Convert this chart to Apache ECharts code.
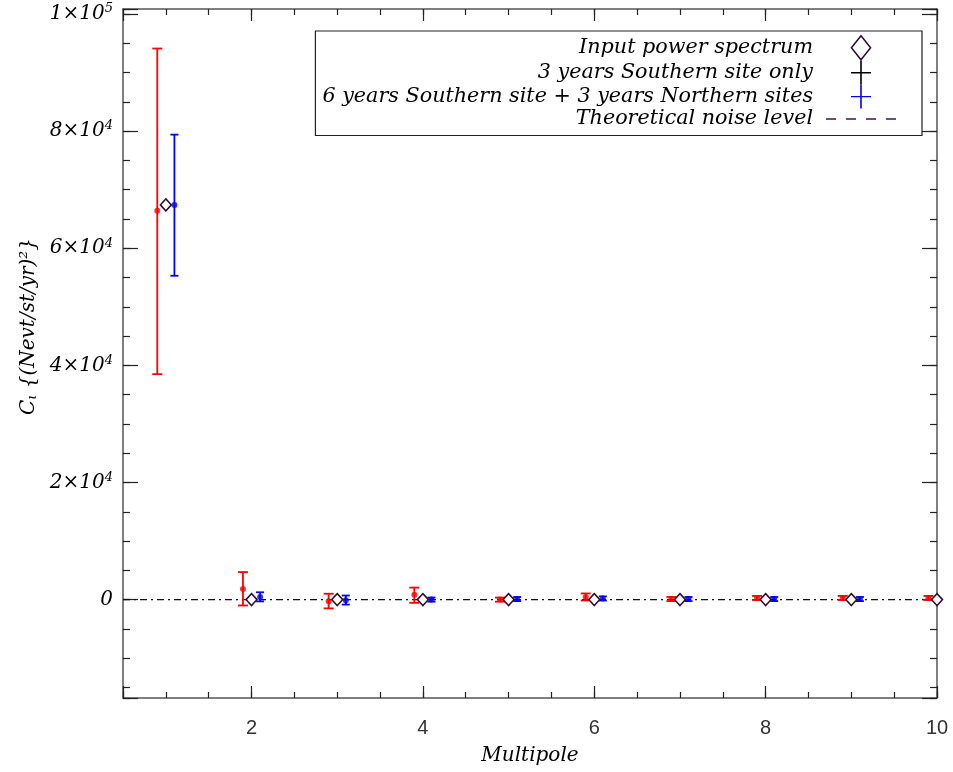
<!DOCTYPE html>
<html>
<head>
<meta charset="utf-8">
<script src="https://cdn.jsdelivr.net/npm/echarts@6/dist/echarts.min.js"></script>
<style>
  html, body { margin: 0; padding: 0; background: #fff; }
  #chart { width: 953px; height: 772px; }
</style>
</head>
<body>
<div id="chart"></div>
<script>
// ---- data ----
const multipoles = [1, 2, 3, 4, 5, 6, 7, 8, 9, 10];
const inputSpectrum = [67400, 0, 0, 0, 0, 0, 0, 0, 0, 0];
const southValues = [66400, 1800, -300, 850, 0, 450, 100, 280, 280, 280];
const southLow    = [38500, -1000, -1500, -550, -350, -150, -250, -70, -70, -70];
const southHigh   = [94100, 4700, 1000, 2050, 350, 1050, 450, 630, 630, 630];
const northValues = [67400, 450, -100, 0, 100, 200, 100, 100, 100, 100];
const northLow    = [55300, -300, -850, -350, -250, -150, -250, -250, -250, -250];
const northHigh   = [79400, 1250, 700, 350, 450, 550, 450, 450, 450, 450];
const noiseLevel = 0;
const xTickLabels = ['2', '4', '6', '8', '10'];
const yTickLabels = { '0': '0', '20000': '2×10^4', '40000': '4×10^4', '60000': '6×10^4', '80000': '8×10^4', '100000': '1×10^5' };
const legendNames = ['Input power spectrum', '3 years Southern site only',
  '6 years Southern site + 3 years Northern sites', 'Theoretical noise level'];

// ---- presentation ----
const SOUTH_SHIFT = -0.1, NORTH_SHIFT = 0.1;
const X_MIN = 0.5, X_MAX = 10, Y_MIN = -16800, Y_MAX = 100850;
const serif = '"DejaVu Serif", serif';
const frameColor = '#555';
const tickColor = '#222';

function errData(lo, hi, shift) {
  return multipoles.map((m, i) => [m + shift, lo[i], hi[i]]);
}
function ptData(vals, shift) {
  return multipoles.map((m, i) => [m + shift, vals[i]]);
}
function errRender(capHalf) {
  return function (params, api) {
    const x = api.value(0), lo = api.value(1), hi = api.value(2);
    const a = api.coord([x, lo]), b = api.coord([x, hi]);
    const style = { stroke: api.visual('color'), lineWidth: 1.8 };
    return {
      type: 'group',
      children: [
        { type: 'line', shape: { x1: a[0], y1: a[1], x2: b[0], y2: b[1] }, style },
        { type: 'line', shape: { x1: a[0] - capHalf, y1: a[1], x2: a[0] + capHalf, y2: a[1] }, style },
        { type: 'line', shape: { x1: b[0] - capHalf, y1: b[1], x2: b[0] + capHalf, y2: b[1] }, style }
      ]
    };
  };
}
function yLabel(v) {
  const t = yTickLabels[String(Math.round(v))];
  if (!t || Math.abs(v - Math.round(v)) > 1e-6) return '';
  const parts = t.split('^');
  if (parts.length === 1) return '{n|' + parts[0] + '}';
  return '{n|' + parts[0] + '}{s|' + parts[1] + '}';
}
function xLabel(v) {
  const s = String(Math.round(v * 1000) / 1000);
  return xTickLabels.indexOf(s) >= 0 ? s : '';
}

function xAx(pos, major, labels) {
  return {
    type: 'value', gridIndex: 0, position: pos, min: X_MIN, max: X_MAX,
    splitNumber: major ? 5 : undefined,
    interval: major ? undefined : 0.5,
    axisLine: { show: major, onZero: false, lineStyle: { color: frameColor, width: 1.5 } },
    axisTick: { show: true, inside: true, length: major ? 12 : 6, lineStyle: { color: tickColor, width: 1.2 } },
    axisLabel: labels ? {
      show: true, formatter: xLabel, margin: 20, fontSize: 20,
      fontFamily: '"Liberation Sans", Arial, sans-serif', color: '#333',
      showMinLabel: true, showMaxLabel: true
    } : { show: false },
    splitLine: { show: false },
    name: labels ? 'Multipole' : '', nameLocation: 'middle', nameGap: 48,
    nameTextStyle: { fontFamily: serif, fontStyle: 'italic', fontSize: 20, color: '#000' }
  };
}
function yAx(pos, major, labels) {
  return {
    type: 'value', gridIndex: 0, position: pos, min: Y_MIN, max: Y_MAX,
    splitNumber: major ? 6 : 24,
    axisLine: { show: major, onZero: false, lineStyle: { color: frameColor, width: 1.5 } },
    axisTick: { show: true, inside: true, length: major ? 15 : 7, lineStyle: { color: tickColor, width: 1.2 } },
    axisLabel: labels ? {
      show: true, formatter: yLabel, margin: 10, showMinLabel: true, showMaxLabel: true,
      rich: {
        n: { fontFamily: serif, fontStyle: 'italic', fontSize: 20, color: '#000' },
        s: { fontFamily: serif, fontStyle: 'italic', fontSize: 13, color: '#000', verticalAlign: 'top', padding: [0, 0, 10, 0] }
      }
    } : { show: false },
    splitLine: { show: false },
    name: labels ? 'C{l|ι} {(Nevt/st/yr)²}' : '',
    nameLocation: 'middle', nameRotate: 90, nameGap: 80,
    nameTextStyle: {
      fontFamily: serif, fontStyle: 'italic', fontSize: 20, color: '#000',
      padding: [0, 0, 0, 54],
      rich: {
        l: { fontFamily: serif, fontStyle: 'italic', fontSize: 13, color: '#000', verticalAlign: 'bottom' }
      }
    }
  };
}

const chart = echarts.init(document.getElementById('chart'), null, { renderer: 'canvas' });
chart.setOption({
  backgroundColor: '#fff',
  animation: false,
  grid: { left: 123, right: 16, top: 9, bottom: 74, containLabel: false },
  xAxis: [xAx('bottom', true, true), xAx('bottom', false, false), xAx('top', true, false), xAx('top', false, false)],
  yAxis: [yAx('left', true, true), yAx('left', false, false), yAx('right', true, false), yAx('right', false, false)],
  legend: {
    orient: 'vertical', right: 31, top: 31, align: 'right',
    itemWidth: 70, itemHeight: 24, itemGap: 0,
    padding: [4, 26, 6, 7],
    borderColor: '#222', borderWidth: 1.2, backgroundColor: '#fff',
    selectedMode: false,
    textStyle: { fontFamily: serif, fontStyle: 'italic', fontSize: 20.7, color: '#000', padding: [0, 8, 0, 0] },
    data: [
      { name: legendNames[0], icon: 'path://M10,0L20,12.5L10,25L0,12.5Z',
        itemStyle: { color: '#fff', borderColor: '#2d0a2d', borderWidth: 1.5 } },
      { name: legendNames[1], icon: 'path://M9.2,0H10.8V11.5H20V13H10.8V24H9.2V13H0V11.5H9.2Z',
        itemStyle: { color: '#000', borderWidth: 0 } },
      { name: legendNames[2], icon: 'path://M9.2,0H10.8V11.4H20V12.8H10.8V24H9.2V12.8H0V11.4H9.2Z',
        itemStyle: { color: '#0000ff', borderWidth: 0 } },
      { name: legendNames[3], icon: 'path://M0,0H10V1.6H0Z M20,0H30V1.6H20Z M40,0H50V1.6H40Z M60,0H70V1.6H60Z',
        itemStyle: { color: '#4b1040', borderWidth: 0 } }
    ]
  },
  series: [
    {
      name: legendNames[3], type: 'line', xAxisIndex: 0, yAxisIndex: 0,
      data: [[X_MIN, noiseLevel], [X_MAX, noiseLevel]],
      symbol: 'none', lineStyle: { color: '#1a0a1a', width: 1.2, type: [7, 4, 2, 4] },
      z: 1
    },
    {
      name: legendNames[1], type: 'custom', xAxisIndex: 0, yAxisIndex: 0, clip: true,
      data: errData(southLow, southHigh, SOUTH_SHIFT),
      encode: { x: 0, y: [1, 2] },
      itemStyle: { color: '#ff0000' },
      renderItem: errRender(5), z: 3
    },
    {
      name: legendNames[1], type: 'scatter', xAxisIndex: 0, yAxisIndex: 0,
      data: ptData(southValues, SOUTH_SHIFT), symbol: 'circle', symbolSize: 6,
      itemStyle: { color: '#ff0000' }, z: 4
    },
    {
      name: legendNames[2], type: 'custom', xAxisIndex: 0, yAxisIndex: 0, clip: true,
      data: errData(northLow, northHigh, NORTH_SHIFT),
      encode: { x: 0, y: [1, 2] },
      itemStyle: { color: '#0000ff' },
      renderItem: errRender(4), z: 3
    },
    {
      name: legendNames[2], type: 'scatter', xAxisIndex: 0, yAxisIndex: 0,
      data: ptData(northValues, NORTH_SHIFT), symbol: 'circle', symbolSize: 6,
      itemStyle: { color: '#0000ff' }, z: 4
    },
    {
      name: legendNames[0], type: 'scatter', xAxisIndex: 0, yAxisIndex: 0,
      data: ptData(inputSpectrum, 0), symbol: 'diamond', symbolSize: [11, 12],
      itemStyle: { color: '#fff', borderColor: '#2d0a2d', borderWidth: 1.5, opacity: 1 }, z: 5
    }
  ]
});
</script>
</body>
</html>
